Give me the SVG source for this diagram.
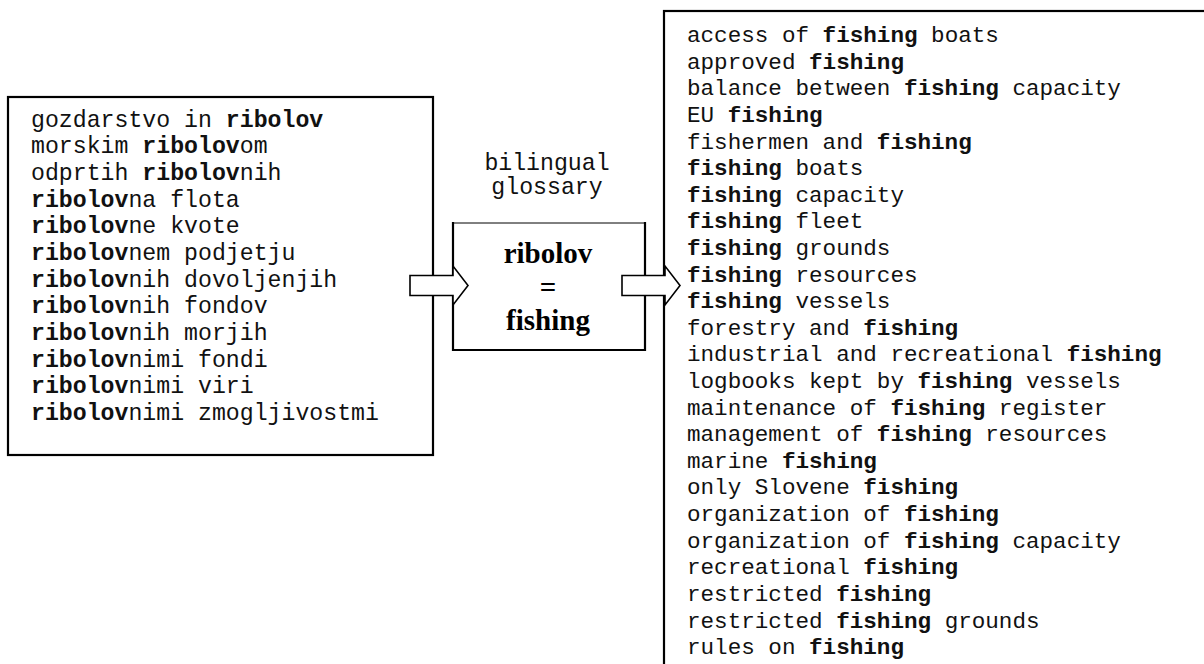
<svg xmlns="http://www.w3.org/2000/svg" width="1204" height="664" viewBox="0 0 1204 664">
  <style>
    .box { fill: #fff; stroke: #000; stroke-width: 2.2; }
    .mono { font-family: "Liberation Mono", "Courier New", monospace; fill: #111; }
    .left { font-size: 23.2px; }
    .right { font-size: 22.6px; }
    .b { font-weight: bold; }
    .term { font-family: "Liberation Serif", "Times New Roman", serif; font-weight: bold; font-size: 29px; fill: #000; text-anchor: middle; }
    .arrow { fill: #fff; stroke: #000; stroke-width: 1.6; stroke-linejoin: miter; }
  </style>
  <rect width="1204" height="664" fill="#fff"/>

  <!-- Slovene concordance -->
  <g id="source-list">
    <rect class="box" x="8" y="97" width="425" height="358"/>
    <text class="mono left" x="31" y="126.7">gozdarstvo in <tspan class="b">ribolov</tspan></text>
    <text class="mono left" x="31" y="153.4">morskim <tspan class="b">ribolov</tspan>om</text>
    <text class="mono left" x="31" y="180.0">odprtih <tspan class="b">ribolov</tspan>nih</text>
    <text class="mono left" x="31" y="206.7"><tspan class="b">ribolov</tspan>na flota</text>
    <text class="mono left" x="31" y="233.4"><tspan class="b">ribolov</tspan>ne kvote</text>
    <text class="mono left" x="31" y="260.0"><tspan class="b">ribolov</tspan>nem podjetju</text>
    <text class="mono left" x="31" y="286.7"><tspan class="b">ribolov</tspan>nih dovoljenjih</text>
    <text class="mono left" x="31" y="313.4"><tspan class="b">ribolov</tspan>nih fondov</text>
    <text class="mono left" x="31" y="340.0"><tspan class="b">ribolov</tspan>nih morjih</text>
    <text class="mono left" x="31" y="366.7"><tspan class="b">ribolov</tspan>nimi fondi</text>
    <text class="mono left" x="31" y="393.4"><tspan class="b">ribolov</tspan>nimi viri</text>
    <text class="mono left" x="31" y="420.0"><tspan class="b">ribolov</tspan>nimi zmogljivostmi</text>
  </g>

  <!-- English concordance (runs off the page) -->
  <g id="target-list">
    <rect class="box" x="664" y="11" width="560" height="680"/>
    <text class="mono right" x="687" y="42.0">access of <tspan class="b">fishing</tspan> boats</text>
    <text class="mono right" x="687" y="68.6">approved <tspan class="b">fishing</tspan></text>
    <text class="mono right" x="687" y="95.2">balance between <tspan class="b">fishing</tspan> capacity</text>
    <text class="mono right" x="687" y="121.8">EU <tspan class="b">fishing</tspan></text>
    <text class="mono right" x="687" y="148.5">fishermen and <tspan class="b">fishing</tspan></text>
    <text class="mono right" x="687" y="175.1"><tspan class="b">fishing</tspan> boats</text>
    <text class="mono right" x="687" y="201.7"><tspan class="b">fishing</tspan> capacity</text>
    <text class="mono right" x="687" y="228.3"><tspan class="b">fishing</tspan> fleet</text>
    <text class="mono right" x="687" y="254.9"><tspan class="b">fishing</tspan> grounds</text>
    <text class="mono right" x="687" y="281.5"><tspan class="b">fishing</tspan> resources</text>
    <text class="mono right" x="687" y="308.1"><tspan class="b">fishing</tspan> vessels</text>
    <text class="mono right" x="687" y="334.7">forestry and <tspan class="b">fishing</tspan></text>
    <text class="mono right" x="687" y="361.4">industrial and recreational <tspan class="b">fishing</tspan></text>
    <text class="mono right" x="687" y="388.0">logbooks kept by <tspan class="b">fishing</tspan> vessels</text>
    <text class="mono right" x="687" y="414.6">maintenance of <tspan class="b">fishing</tspan> register</text>
    <text class="mono right" x="687" y="441.2">management of <tspan class="b">fishing</tspan> resources</text>
    <text class="mono right" x="687" y="467.8">marine <tspan class="b">fishing</tspan></text>
    <text class="mono right" x="687" y="494.4">only Slovene <tspan class="b">fishing</tspan></text>
    <text class="mono right" x="687" y="521.0">organization of <tspan class="b">fishing</tspan></text>
    <text class="mono right" x="687" y="547.6">organization of <tspan class="b">fishing</tspan> capacity</text>
    <text class="mono right" x="687" y="574.3">recreational <tspan class="b">fishing</tspan></text>
    <text class="mono right" x="687" y="600.9">restricted <tspan class="b">fishing</tspan></text>
    <text class="mono right" x="687" y="627.5">restricted <tspan class="b">fishing</tspan> grounds</text>
    <text class="mono right" x="687" y="654.1">rules on <tspan class="b">fishing</tspan></text>
  </g>

  <!-- Glossary entry -->
  <g id="glossary">
    <text class="mono left" x="547" y="170" text-anchor="middle">bilingual</text>
    <text class="mono left" x="547" y="194" text-anchor="middle">glossary</text>
    <rect x="453" y="223" width="192" height="127" fill="#fff" stroke="none"/>
    <line x1="453" y1="223" x2="645" y2="223" stroke="#000" stroke-width="1"/>
    <path d="M453 222 V350 H645 V222" fill="none" stroke="#000" stroke-width="2.2"/>
    <text class="term" x="548" y="263">ribolov</text>
    <text class="term" x="548" y="296.5">=</text>
    <text class="term" x="548" y="330">fishing</text>
  </g>

  <!-- Block arrows -->
  <g id="connectors">
    <polygon class="arrow" points="410,275.5 453,275.5 453,266 468,285.5 453,305 453,295.5 410,295.5"/>
    <polygon class="arrow" points="622,275.5 665,275.5 665,266 680,285.5 665,305 665,295.5 622,295.5"/>
  </g>
</svg>
